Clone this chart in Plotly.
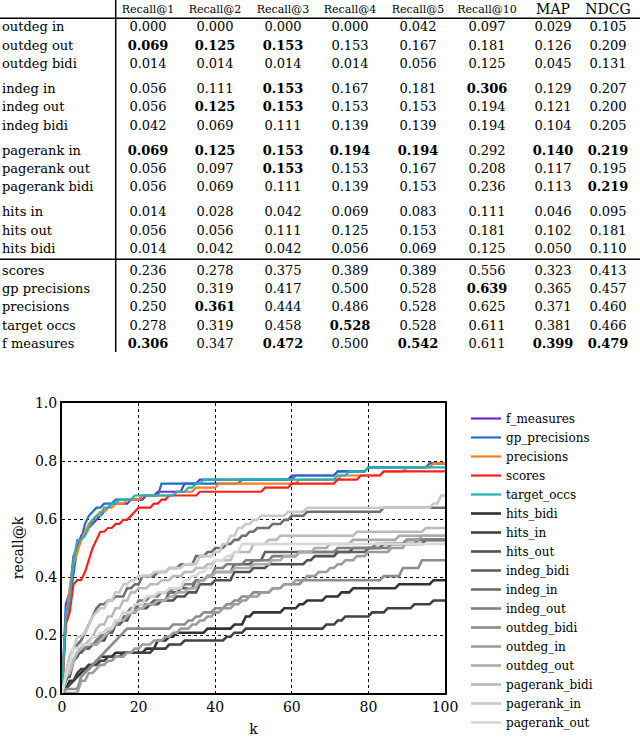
import plotly.graph_objects as go

# ---------------- table data ----------------
table_methods = ["outdeg in", "outdeg out", "outdeg bidi",
                 "indeg in", "indeg out", "indeg bidi",
                 "pagerank in", "pagerank out", "pagerank bidi",
                 "hits in", "hits out", "hits bidi",
                 "scores", "gp precisions", "precisions", "target occs", "f measures"]
table_groups = [0, 0, 0, 1, 1, 1, 2, 2, 2, 3, 3, 3, 4, 4, 4, 4, 4]
table_sections = [0, 0, 0, 0, 0, 0, 0, 0, 0, 0, 0, 0, 1, 1, 1, 1, 1]
table_headers = ["Recall@1", "Recall@2", "Recall@3", "Recall@4", "Recall@5", "Recall@10", "MAP", "NDCG"]

recall_at_1 = [0.000, 0.069, 0.014, 0.056, 0.056, 0.042, 0.069, 0.056, 0.056, 0.014, 0.056, 0.014, 0.236, 0.250, 0.250, 0.278, 0.306]
recall_at_2 = [0.000, 0.125, 0.014, 0.111, 0.125, 0.069, 0.125, 0.097, 0.069, 0.028, 0.056, 0.042, 0.278, 0.319, 0.361, 0.319, 0.347]
recall_at_3 = [0.000, 0.153, 0.014, 0.153, 0.153, 0.111, 0.153, 0.153, 0.111, 0.042, 0.111, 0.042, 0.375, 0.417, 0.444, 0.458, 0.472]
recall_at_4 = [0.000, 0.153, 0.014, 0.167, 0.153, 0.139, 0.194, 0.153, 0.139, 0.069, 0.125, 0.056, 0.389, 0.500, 0.486, 0.528, 0.500]
recall_at_5 = [0.042, 0.167, 0.056, 0.181, 0.153, 0.139, 0.194, 0.167, 0.153, 0.083, 0.153, 0.069, 0.389, 0.528, 0.528, 0.528, 0.542]
recall_at_10 = [0.097, 0.181, 0.125, 0.306, 0.194, 0.194, 0.292, 0.208, 0.236, 0.111, 0.181, 0.125, 0.556, 0.639, 0.625, 0.611, 0.611]
map_scores = [0.029, 0.126, 0.045, 0.129, 0.121, 0.104, 0.140, 0.117, 0.113, 0.046, 0.102, 0.050, 0.323, 0.365, 0.371, 0.381, 0.399]
ndcg_scores = [0.105, 0.209, 0.131, 0.207, 0.200, 0.205, 0.219, 0.195, 0.219, 0.095, 0.181, 0.110, 0.413, 0.457, 0.460, 0.466, 0.479]

# ---------------- recall@k curves: (k, recall) where recall changes ----------------
f_measures = [(0, 0.0), (1, .306), (2, .347), (3, .472), (4, .500), (5, .542), (6, .556), (7, .569), (8, .583), (9, .597),
              (10, .611), (11, .625), (12, .639), (13, .653), (18, .667), (22, .681), (25, .694), (32, .722), (36, .736),
              (60, .750), (72, .764), (80, .778), (96, .792)]
gp_precisions = [(0, 0.0), (1, .250), (2, .319), (3, .417), (4, .500), (5, .528), (6, .583), (7, .611), (8, .625), (9, .639),
                 (11, .653), (14, .667), (21, .681), (26, .722), (47, .736), (61, .750), (72, .764), (80, .778), (96, .792)]
precisions = [(0, 0.0), (1, .250), (2, .361), (3, .444), (4, .486), (5, .528), (6, .556), (7, .583), (8, .597), (9, .611),
              (10, .625), (12, .639), (14, .653), (17, .667), (21, .681), (30, .694), (35, .708), (41, .722), (62, .736),
              (73, .750), (84, .764), (90, .778), (97, .792)]
scores = [(0, 0.0), (1, .236), (2, .278), (3, .375), (4, .389), (6, .417), (7, .458), (8, .500), (9, .528), (10, .556),
          (12, .569), (14, .583), (16, .597), (18, .611), (19, .625), (20, .639), (24, .653), (26, .667), (28, .681),
          (36, .694), (53, .708), (60, .722), (72, .736), (78, .750), (84, .764)]
target_occs = [(0, 0.0), (1, .278), (2, .319), (3, .458), (4, .528), (6, .542), (7, .569), (8, .597), (9, .611), (11, .639),
               (13, .653), (15, .667), (19, .681), (30, .694), (33, .708), (35, .722), (37, .736), (72, .750), (75, .764),
               (80, .778)]
hits_bidi = [(0, 0.0), (1, .014), (2, .042), (4, .056), (5, .069), (6, .083), (8, .097), (9, .111), (10, .125), (14, .139),
             (22, .153), (25, .181), (28, .194), (30, .208), (38, .222), (45, .236), (48, .264), (50, .278), (58, .292),
             (62, .306), (64, .319), (69, .333), (73, .347), (76, .361), (88, .375), (97, .389)]
hits_in = [(0, 0.0), (1, .014), (2, .028), (3, .042), (4, .069), (5, .083), (7, .097), (10, .111), (12, .125), (16, .139),
           (24, .153), (28, .167), (32, .181), (43, .194), (45, .208), (48, .222), (69, .236), (72, .250), (74, .264),
           (81, .278), (85, .292), (92, .306), (97, .319)]
hits_out = [(0, 0.0), (1, .056), (3, .111), (4, .125), (5, .153), (7, .167), (10, .181), (12, .208), (14, .236), (16, .250),
            (18, .278), (20, .292), (23, .306), (26, .319), (30, .333), (33, .347), (36, .375), (40, .389), (45, .417),
            (50, .431), (54, .444), (64, .458), (66, .472), (72, .486), (76, .500), (84, .514), (95, .528)]
indeg_bidi = [(0, 0.0), (1, .042), (2, .069), (3, .111), (4, .139), (6, .153), (8, .167), (9, .181), (10, .194), (12, .208),
              (14, .236), (16, .264), (18, .278), (20, .306), (24, .319), (28, .347), (31, .361), (35, .389), (38, .403),
              (40, .417), (45, .444), (50, .458), (53, .486), (80, .500), (82, .514), (90, .528)]
indeg_in = [(0, 0.0), (1, .056), (2, .111), (3, .153), (4, .167), (5, .181), (6, .208), (7, .236), (8, .264), (9, .292),
            (10, .306), (12, .319), (14, .333), (17, .361), (19, .375), (21, .403), (25, .417), (28, .431), (31, .444),
            (35, .472), (38, .486), (40, .500), (43, .514), (45, .528), (47, .542), (49, .556), (51, .569), (55, .583),
            (58, .597), (60, .611), (64, .625), (84, .639)]
indeg_out = [(0, 0.0), (1, .056), (2, .125), (3, .153), (7, .167), (9, .181), (10, .194), (11, .208), (12, .222), (14, .250),
             (16, .278), (18, .292), (20, .319), (23, .333), (26, .347), (29, .361), (32, .375), (35, .389), (38, .403),
             (40, .431), (43, .444), (48, .458), (55, .472), (62, .486), (72, .500), (86, .514), (93, .528)]
outdeg_bidi = [(0, 0.0), (1, .014), (5, .056), (6, .069), (7, .083), (8, .097), (9, .111), (10, .125), (11, .139), (12, .153),
               (13, .167), (14, .181), (15, .194), (16, .208), (17, .222), (29, .236), (33, .250), (35, .264), (37, .278),
               (40, .292), (43, .306), (45, .319), (47, .333), (50, .347), (55, .361), (58, .375), (63, .389), (84, .403),
               (89, .431), (94, .458)]
outdeg_in = [(0, 0.0), (5, .042), (7, .069), (9, .083), (10, .097), (12, .111), (14, .125), (17, .139), (19, .153), (21, .167),
             (24, .181), (27, .194), (29, .208), (31, .222), (34, .236), (36, .250), (38, .264), (40, .278), (42, .292),
             (45, .306), (47, .319), (49, .333), (52, .347), (55, .361), (58, .375), (61, .389), (64, .403), (67, .417),
             (70, .431), (72, .444), (74, .458), (77, .472), (80, .486), (86, .500), (90, .528), (94, .542)]
outdeg_out = [(0, 0.0), (1, .069), (2, .125), (3, .153), (5, .167), (10, .181), (11, .194), (12, .208), (13, .222), (14, .236),
              (15, .250), (17, .264), (18, .278), (20, .292), (22, .306), (25, .319), (28, .333), (30, .347), (33, .361),
              (36, .389), (38, .403), (40, .417), (45, .431), (50, .444), (55, .458), (58, .472), (62, .486), (66, .500),
              (70, .514), (76, .528), (88, .542)]
pagerank_bidi = [(0, 0.0), (1, .056), (2, .069), (3, .111), (4, .139), (5, .153), (6, .167), (7, .181), (8, .194), (9, .222),
                 (10, .236), (12, .264), (14, .292), (16, .319), (18, .347), (20, .361), (23, .375), (26, .389), (29, .403),
                 (32, .417), (35, .431), (38, .444), (40, .458), (45, .486), (50, .514), (54, .528), (57, .542), (77, .556),
                 (95, .569)]
pagerank_in = [(0, 0.0), (1, .069), (2, .125), (3, .153), (4, .194), (6, .208), (7, .236), (8, .264), (9, .278), (10, .292),
               (12, .319), (14, .347), (16, .375), (18, .389), (20, .403), (24, .417), (28, .431), (32, .444), (36, .472),
               (40, .486), (42, .514), (44, .542), (46, .569), (48, .583), (50, .597), (52, .611), (59, .625), (64, .639),
               (97, .653), (99, .681)]
pagerank_out = [(0, 0.0), (1, .056), (2, .097), (3, .153), (5, .167), (8, .194), (10, .208), (12, .222), (14, .250), (16, .278),
                (19, .306), (22, .333), (25, .347), (28, .361), (32, .389), (34, .403), (36, .417), (38, .431), (40, .458),
                (43, .472), (45, .486), (47, .514)]

curve_names = ["f_measures", "gp_precisions", "precisions", "scores", "target_occs",
               "hits_bidi", "hits_in", "hits_out", "indeg_bidi", "indeg_in", "indeg_out",
               "outdeg_bidi", "outdeg_in", "outdeg_out", "pagerank_bidi", "pagerank_in", "pagerank_out"]
curve_data = [f_measures, gp_precisions, precisions, scores, target_occs,
              hits_bidi, hits_in, hits_out, indeg_bidi, indeg_in, indeg_out,
              outdeg_bidi, outdeg_in, outdeg_out, pagerank_bidi, pagerank_in, pagerank_out]
k_max = 100

# ---------------- styles ----------------
curve_colors = ["#6a2fd2", "#1f6fd0", "#ff7f1e", "#ff1e1e", "#1fb4b4",
                "#333333", "#424242", "#515151", "#606060", "#6f6f6f", "#7e7e7e",
                "#8d8d8d", "#9c9c9c", "#ababab", "#bababa", "#c9c9c9", "#d8d8d8"]
curve_widths = [2.2] * 5 + [2.6] * 12
FONT = "DejaVu Serif, serif"


def held_series(points, kmax):
    """recall@k is constant until the next change point"""
    changes = dict(points)
    ks, vals, cur = [], [], points[0][1]
    for k in range(kmax + 1):
        if k in changes:
            cur = changes[k]
        ks.append(k)
        vals.append(cur)
    return ks, vals


fig = go.Figure()
for name, pts, col, w in zip(curve_names, curve_data, curve_colors, curve_widths):
    ks, vals = held_series(pts, k_max)
    fig.add_trace(go.Scatter(x=ks, y=vals, mode="lines", name=name,
                             line=dict(color=col, width=w), hoverinfo="skip"))

# ---------------- table (text marks on a hidden axis pair) ----------------
col_centers = [148, 215, 283, 350, 418, 487, 553, 608]
label_x = 2
row_top, row_step = 28, 18.4
group_offsets = [0, 6.5, 13, 19.5, 22.5]
header_y = 10
row_y = [row_top + i * row_step + group_offsets[g] for i, g in enumerate(table_groups)]

columns = [recall_at_1, recall_at_2, recall_at_3, recall_at_4, recall_at_5, recall_at_10, map_scores, ndcg_scores]
cell_x, cell_y, cell_t = [], [], []
for cx, col in zip(col_centers, columns):
    best = {}
    for v, s in zip(col, table_sections):
        best[s] = max(best.get(s, -1), v)
    for v, s, y in zip(col, table_sections, row_y):
        txt = f"{v:.3f}"
        if v == best[s]:
            txt = f"<b>{txt}</b>"
        cell_x.append(cx)
        cell_y.append(y)
        cell_t.append(txt)

fig.add_trace(go.Scatter(x=cell_x, y=cell_y, text=cell_t, mode="text", textposition="middle center",
                         textfont=dict(family=FONT, size=13, color="black"),
                         xaxis="x2", yaxis="y2", showlegend=False, hoverinfo="skip"))
fig.add_trace(go.Scatter(x=[label_x] * len(table_methods), y=row_y, text=table_methods, mode="text",
                         textposition="middle right",
                         textfont=dict(family=FONT, size=13, color="black"),
                         xaxis="x2", yaxis="y2", showlegend=False, hoverinfo="skip"))
fig.add_trace(go.Scatter(x=col_centers, y=[header_y] * len(table_headers), text=table_headers, mode="text",
                         textposition="middle center",
                         textfont=dict(family=FONT, size=[11] * 6 + [14, 14], color="black"),
                         xaxis="x2", yaxis="y2", showlegend=False, hoverinfo="skip"))

rule = dict(color="black", width=1.5)
fig.add_shape(type="line", xref="x2", yref="y2", x0=0, x1=640, y0=18.3, y1=18.3, line=rule)
fig.add_shape(type="line", xref="x2", yref="y2", x0=0, x1=640, y0=259.3, y1=259.3, line=rule)
fig.add_shape(type="line", xref="x2", yref="y2", x0=115.7, x1=115.7, y0=0, y1=352, line=rule)

W, H = 640, 738
axis_common = dict(showgrid=True, gridcolor="black", griddash="dot", gridwidth=1.3,
                   showline=True, mirror=True, linecolor="black", linewidth=2,
                   zeroline=False, ticks="", tickfont=dict(family=FONT, size=14, color="black"))
fig.update_layout(
    width=W, height=H, autosize=False,
    margin=dict(l=0, r=0, t=0, b=0, pad=0, autoexpand=False),
    paper_bgcolor="white", plot_bgcolor="white",
    font=dict(family=FONT, color="black"),
    xaxis=dict(domain=[62 / W, 445 / W], range=[0, 100], dtick=20, automargin=False,
               title=dict(text="k", font=dict(family=FONT, size=14), standoff=10), **axis_common),
    yaxis=dict(domain=[(H - 693) / H, (H - 403) / H], range=[0, 1], dtick=0.2, tickformat=".1f", automargin=False,
               title=dict(text="recall@k", font=dict(family=FONT, size=14), standoff=8), **axis_common),
    xaxis2=dict(domain=[0, 1], range=[0, 640], visible=False, anchor="y2", fixedrange=True),
    yaxis2=dict(domain=[(H - 356) / H, 1], range=[356, 0], visible=False, anchor="x2", fixedrange=True),
    legend=dict(x=466 / W, y=(H - 404) / H, xanchor="left", yanchor="top",
                font=dict(family=FONT, size=12, color="black"), bgcolor="rgba(0,0,0,0)",
                tracegroupgap=0, itemwidth=30),
    showlegend=True,
)

fig.write_html("out.html", config={"displayModeBar": False},
               post_script="document.body.style.margin='0';document.body.style.padding='0';")
